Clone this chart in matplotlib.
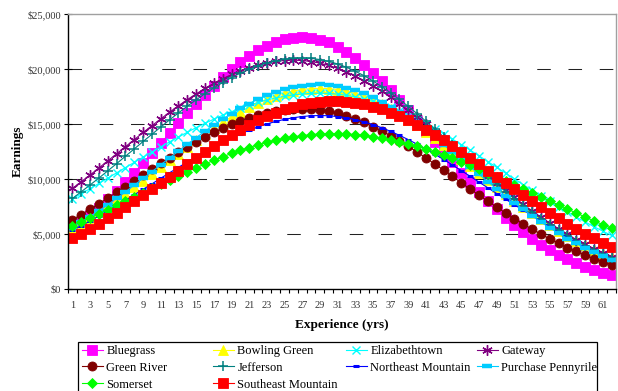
import matplotlib
matplotlib.use("Agg")
import matplotlib.pyplot as plt
from matplotlib.patches import Rectangle
from matplotlib.ticker import FixedLocator, NullFormatter

# experience in years, one point per year
experience = list(range(1, 63))

bluegrass = [5400, 6030, 6690, 7400, 8150, 8930, 9740, 10590, 11460, 12340, 13250, 14160, 15060, 15960, 16830,
             17680, 18490, 19260, 19970, 20620, 21210, 21710, 22130, 22460, 22710, 22850, 22900, 22850, 22680, 22420,
             22040, 21580, 21020, 20380, 19660, 18880, 18050, 17170, 16250, 15310, 14360, 13400, 12450, 11510, 10590,
             9700, 8830, 8010, 7230, 6500, 5810, 5170, 4580, 4040, 3540, 3090, 2690, 2320, 2000, 1710, 1460, 1240]
bowling_green = [5460, 5950, 6450, 6980, 7520, 8090, 8670, 9260, 9860, 10470, 11090, 11700, 12310, 12910, 13500,
                 14070, 14620, 15150, 15650, 16110, 16540, 16930, 17270, 17560, 17810, 18000, 18140, 18220, 18250,
                 18220, 18130, 17970, 17760, 17490, 17170, 16800, 16370, 15910, 15400, 14870, 14300, 13710, 13090,
                 12460, 11830, 11180, 10540, 9900, 9260, 8640, 8040, 7450, 6870, 6330, 5800, 5310, 4830, 4390, 3970,
                 3580, 3220, 2880]
elizabethtown = [8210, 8660, 9130, 9600, 10080, 10560, 11040, 11510, 11990, 12460, 12920, 13380, 13820, 14250, 14670,
                 15060, 15440, 15800, 16120, 16430, 16710, 16960, 17180, 17370, 17520, 17640, 17730, 17780, 17800,
                 17780, 17710, 17610, 17460, 17280, 17050, 16790, 16500, 16160, 15800, 15410, 15000, 14560, 14100,
                 13620, 13130, 12620, 12110, 11580, 11060, 10530, 10010, 9490, 8970, 8460, 7960, 7480, 7000, 6550,
                 6100, 5670, 5260, 4870]
gateway = [9140, 9760, 10370, 11010, 11650, 12290, 12940, 13580, 14230, 14850, 15470, 16080, 16660, 17220, 17740,
           18240, 18700, 19120, 19500, 19840, 20130, 20370, 20550, 20690, 20770, 20800, 20770, 20680, 20530, 20320,
           20050, 19740, 19360, 18940, 18480, 17970, 17430, 16850, 16250, 15620, 14970, 14310, 13640, 12960, 12270,
           11590, 10920, 10260, 9600, 8970, 8330, 7700, 7100, 6520, 5970, 5450, 4960, 4500, 4070, 3660, 3280, 2920]
green_river = [6300, 6770, 7260, 7760, 8270, 8790, 9310, 9840, 10370, 10900, 11420, 11930, 12430, 12910, 13380,
               13820, 14240, 14620, 14980, 15300, 15590, 15830, 16030, 16190, 16310, 16380, 16400, 16370, 16290,
               16160, 15980, 15740, 15460, 15140, 14770, 14370, 13930, 13460, 12960, 12450, 11910, 11360, 10800,
               10230, 9660, 9100, 8530, 7980, 7440, 6910, 6400, 5910, 5440, 4990, 4560, 4150, 3770, 3420, 3080, 2770,
               2480, 2220]
jefferson = [8230, 8840, 9460, 10090, 10740, 11400, 12070, 12740, 13410, 14070, 14730, 15380, 16010, 16620, 17200,
             17760, 18280, 18770, 19220, 19620, 19980, 20290, 20540, 20740, 20880, 20970, 21000, 20970, 20860, 20690,
             20460, 20160, 19800, 19390, 18920, 18400, 17840, 17230, 16600, 15940, 15250, 14540, 13830, 13100, 12370,
             11650, 10930, 10220, 9530, 8850, 8200, 7570, 6960, 6390, 5840, 5320, 4830, 4370, 3950, 3550, 3180, 2840]
northeast_mountain = [5320, 5750, 6180, 6640, 7100, 7580, 8070, 8560, 9060, 9560, 10070, 10570, 11060, 11550, 12020,
                      12480, 12920, 13340, 13730, 14100, 14430, 14740, 15000, 15230, 15420, 15570, 15680, 15750,
                      15770, 15750, 15680, 15560, 15400, 15190, 14950, 14660, 14330, 13970, 13580, 13160, 12720,
                      12250, 11770, 11270, 10760, 10250, 9720, 9200, 8680, 8170, 7660, 7160, 6680, 6150, 5650, 5150,
                      4680, 4230, 3800, 3400, 3020, 2680]
purchase_pennyrile = [5570, 6060, 6580, 7110, 7670, 8240, 8830, 9440, 10050, 10670, 11300, 11920, 12550, 13160, 13760,
                      14340, 14900, 15440, 15950, 16420, 16860, 17250, 17600, 17900, 18150, 18350, 18480, 18570,
                      18600, 18570, 18470, 18300, 18080, 17790, 17440, 17040, 16590, 16090, 15560, 14990, 14380,
                      13750, 13110, 12450, 11780, 11100, 10430, 9760, 9100, 8460, 7840, 7230, 6650, 6090, 5560, 5060,
                      4590, 4140, 3730, 3340, 2990, 2660]
somerset = [5750, 6100, 6460, 6840, 7210, 7600, 7980, 8370, 8760, 9150, 9530, 9920, 10290, 10660, 11020, 11360, 11700,
            12020, 12320, 12600, 12860, 13110, 13320, 13520, 13690, 13830, 13940, 14030, 14090, 14120, 14120, 14090,
            14040, 13960, 13850, 13720, 13570, 13390, 13190, 12970, 12720, 12460, 12180, 11890, 11580, 11250, 10920,
            10570, 10220, 9860, 9490, 9120, 8750, 8380, 8010, 7640, 7270, 6910, 6550, 6200, 5860, 5530]
southeast_mountain = [4600, 5020, 5460, 5930, 6410, 6910, 7430, 7960, 8510, 9070, 9630, 10200, 10770, 11340, 11900,
                      12450, 12990, 13510, 14000, 14480, 14920, 15330, 15710, 16040, 16340, 16590, 16790, 16940,
                      17040, 17090, 17090, 17040, 16940, 16790, 16590, 16340, 16040, 15710, 15330, 14920, 14480,
                      14000, 13510, 12990, 12450, 11900, 11340, 10770, 10200, 9630, 9070, 8510, 7960, 7430, 6910,
                      6410, 5930, 5460, 5020, 4600, 4200, 3820]

region_names = ["Bluegrass", "Bowling Green", "Elizabethtown", "Gateway", "Green River", "Jefferson",
                "Northeast Mountain", "Purchase Pennyrile", "Somerset", "Southeast Mountain"]
y_ticks = [0, 5000, 10000, 15000, 20000, 25000]
y_tick_labels = ["$0", "$5,000", "$10,000", "$15,000", "$20,000", "$25,000"]

series = [bluegrass, bowling_green, elizabethtown, gateway, green_river, jefferson,
          northeast_mountain, purchase_pennyrile, somerset, southeast_mountain]

# Excel-ish colours and markers, same order as region_names
STYLES = [
    dict(color="#FF00FF", marker="s", ms=6.5),
    dict(color="#FFFF00", marker="^", ms=6.5),
    dict(color="#00FFFF", marker="x", ms=6, mew=1.0),
    dict(color="#800080", marker=(6, 2, 0), ms=7.5, mew=1.0),
    dict(color="#800000", marker="o", ms=6.5),
    dict(color="#008080", marker="+", ms=7.5, mew=1.1),
    dict(color="#0000FF", marker="_", ms=4, mew=2.2),
    dict(color="#00CCFF", marker="_", ms=6.5, mew=3.2),
    dict(color="#00FF00", marker="D", ms=5),
    dict(color="#FF0000", marker="s", ms=6.5),
]

plt.rcParams["font.family"] = ["Liberation Serif", "DejaVu Serif"]

W, H = 618, 391
fig = plt.figure(figsize=(W / 100, H / 100), dpi=100)
ax = fig.add_axes([68 / W, 1 - 289 / H, (616 - 68) / W, (289 - 14) / H])

lines = []
for name, vals, st in zip(region_names, series, STYLES):
    ln, = ax.plot(experience, vals, color=st["color"], lw=0.8, marker=st["marker"],
                  markersize=st["ms"], markeredgewidth=st.get("mew", 0.6),
                  markerfacecolor=st["color"], markeredgecolor=st["color"], label=name)
    lines.append(ln)

ax.set_xlim(0.5, 62.5)
ax.set_ylim(0, 25000)

# dashed gridlines at the inner y ticks
for v in y_ticks[1:-1]:
    ax.axhline(v, color="#222222", lw=0.75, linestyle=(0, (13, 17)), zorder=0.5)

ax.set_yticks(y_ticks)
ax.set_yticklabels(y_tick_labels, fontsize=7.5, color="#333333")
ax.tick_params(axis="y", direction="inout", length=6, width=0.8, pad=2)

# category axis: labels on odd years, small ticks between categories
ax.xaxis.set_major_locator(FixedLocator(experience[::2]))
ax.set_xticklabels([str(v) for v in experience[::2]], fontsize=7.5, color="#333333")
ax.tick_params(axis="x", which="major", length=0, pad=9)
ax.xaxis.set_minor_locator(FixedLocator([v + 0.5 for v in range(0, 63)]))
ax.xaxis.set_minor_formatter(NullFormatter())
ax.tick_params(axis="x", which="minor", direction="out", length=3, width=0.8)

for side in ["left", "bottom"]:
    ax.spines[side].set_color("black")
    ax.spines[side].set_linewidth(1.0)
for side in ["top", "right"]:
    ax.spines[side].set_color("#A0A0A0")
    ax.spines[side].set_linewidth(1.0)

fig.text(18 / W, 1 - 151 / H, "Earnings", rotation=90, ha="center", va="center",
         fontsize=9.5, fontweight="bold")
fig.text(342 / W, 1 - 325 / H, "Experience (yrs)", ha="center", va="center",
         fontsize=9.5, fontweight="bold")

# legend: Excel fills row by row with even columns, so build four single-column legends
fig.patches.append(Rectangle((78 / W, 1 - 393 / H), (597 - 78) / W, (393 - 341.5) / H,
                             transform=fig.transFigure, fill=False, edgecolor="black", lw=0.9))
col_x = [82, 213, 346, 477]
for c, x0 in enumerate(col_x):
    idx = list(range(c, len(lines), 4))
    fig.legend([lines[i] for i in idx], [region_names[i] for i in idx],
               loc="upper left", bbox_to_anchor=(x0 / W, 1 - 345 / H), frameon=False,
               fontsize=9, handlelength=1.65, handletextpad=0.3, labelspacing=0.38,
               borderpad=0, borderaxespad=0, numpoints=1)

fig.savefig("out.png", dpi=100)
